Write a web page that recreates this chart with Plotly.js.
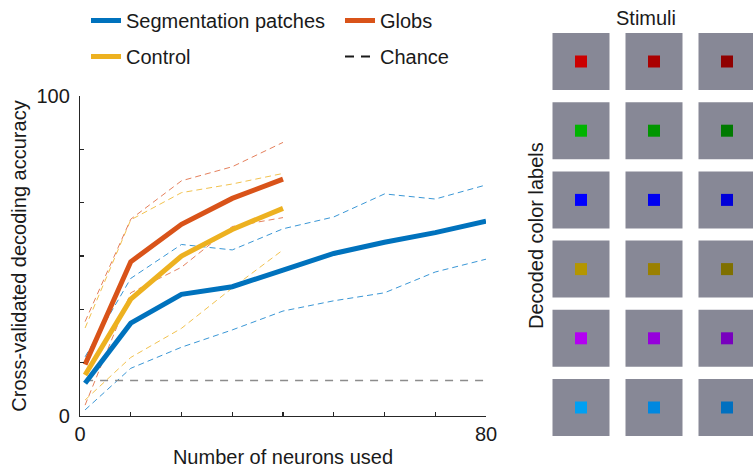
<!DOCTYPE html>
<html>
<head>
<meta charset="utf-8">
<script src="https://cdn.plot.ly/plotly-3.0.1.min.js"></script>
<style>html,body{margin:0;padding:0;background:#fff}#chart{width:753px;height:468px}</style>
</head>
<body>
<div id="chart"></div>
<script>
// ---- Decoding accuracy data ----
var neuronsShort = [1, 10, 20, 30, 40];
var neuronsLong = [1, 10, 20, 30, 40, 50, 60, 70, 80];

var segMean  = [10.2, 29.0, 38.0, 40.4, 45.6, 50.8, 54.3, 57.3, 60.9];
var segUpper = [18.5, 43.0, 53.6, 51.9, 58.5, 62.2, 69.4, 67.8, 72.2];
var segLower = [1.9, 14.9, 21.5, 26.9, 32.8, 36.0, 38.5, 45.0, 49.0];

var globsMean  = [16.1, 48.2, 59.9, 68.0, 74.0];
var globsUpper = [29.5, 61.5, 73.5, 77.9, 85.5];
var globsLower = [3.4, 38.5, 46.5, 59.2, 62.0];

var controlMean  = [12.8, 36.5, 50.0, 58.3, 64.9];
var controlUpper = [27.5, 61.3, 69.8, 72.5, 75.8];
var controlLower = [5.0, 18.3, 27.4, 40.0, 51.9];

var chanceX = [1, 80];
var chanceLevel = [11.1, 11.1];

var xTickVals = [0, 10, 20, 30, 40, 50, 60, 70, 80];
var xTickText = ['0', '', '', '', '', '', '', '', '80'];
var yTickVals = [0, 16.67, 33.33, 50, 66.67, 83.33, 100];
var yTickText = ['0', '', '', '', '', '', '100'];

// ---- Stimuli grid: rows = decoded colour labels, columns = stimulus shades ----
var labelRows = [0, 1, 2, 3, 4, 5];
var shadeCols = [0, 1, 2];
var redShades    = ['#cc0000', '#aa0000', '#900000'];
var greenShades  = ['#00b400', '#009600', '#007a00'];
var blueShades   = ['#0000ff', '#0000f0', '#0000d8'];
var yellowShades = ['#b49600', '#9a8000', '#7f7000'];
var purpleShades = ['#b400f2', '#9600dc', '#7800be'];
var cyanShades   = ['#00a0f2', '#0088e0', '#0070c0'];
var shadeRows = [redShades, greenShades, blueShades, yellowShades, purpleShades, cyanShades];

// ---- colours ----
var C_BLUE = '#0072BD', C_ORANGE = '#D95319', C_YELLOW = '#EDB120';
var C_BLUE_L = '#3a97d6', C_ORANGE_L = '#e5805c', C_YELLOW_L = '#f2c24e';

function dashed(x, y, color) {
  return {x: x, y: y, type: 'scatter', mode: 'lines', showlegend: false, hoverinfo: 'skip',
          line: {color: color, width: 1, dash: '6px,4px'}};
}

var traces = [];
traces.push(dashed(neuronsLong, segUpper, C_BLUE_L));
traces.push(dashed(neuronsLong, segLower, C_BLUE_L));
traces.push(dashed(neuronsShort, controlUpper, C_YELLOW_L));
traces.push(dashed(neuronsShort, controlLower, C_YELLOW_L));
traces.push(dashed(neuronsShort, globsUpper, C_ORANGE_L));
traces.push(dashed(neuronsShort, globsLower, C_ORANGE_L));
traces.push({x: chanceX, y: chanceLevel, type: 'scatter', mode: 'lines', showlegend: false,
             line: {color: '#8c8c8c', width: 1.6, dash: '8px,7px'}});
traces.push({x: neuronsLong, y: segMean, type: 'scatter', mode: 'lines', name: 'Segmentation patches',
             legend: 'legend', legendgroup: 'a', line: {color: C_BLUE, width: 5}});
traces.push({x: neuronsShort, y: controlMean, type: 'scatter', mode: 'lines', name: 'Control',
             legend: 'legend', legendgroup: 'b', line: {color: C_YELLOW, width: 5}});
traces.push({x: neuronsShort, y: globsMean, type: 'scatter', mode: 'lines', name: 'Globs',
             legend: 'legend2', legendgroup: 'c', line: {color: C_ORANGE, width: 5}});
traces.push({x: [null], y: [null], type: 'scatter', mode: 'lines', name: 'Chance',
             legend: 'legend2', legendgroup: 'd', line: {color: '#1a1a1a', width: 2, dash: '9px,7px'}});

// stimuli grid
var cellX = [], cellY = [], dotX = [], dotY = [], dotC = [];
labelRows.forEach(function (r) {
  shadeCols.forEach(function (c) {
    cellX.push(c); cellY.push(r);
    dotX.push(c); dotY.push(r); dotC.push(shadeRows[r][c]);
  });
});
traces.push({x: cellX, y: cellY, xaxis: 'x2', yaxis: 'y2', type: 'scatter', mode: 'markers',
             showlegend: false, cliponaxis: false, hoverinfo: 'skip',
             marker: {symbol: 'square', size: 57, color: '#878896', line: {width: 0}}});
traces.push({x: dotX, y: dotY, xaxis: 'x2', yaxis: 'y2', type: 'scatter', mode: 'markers',
             showlegend: false, cliponaxis: false, hoverinfo: 'skip',
             marker: {symbol: 'square', size: 12, color: dotC, line: {width: 0}}});

var W = 753, H = 468;
var FONT = '"Liberation Sans", Arial, sans-serif';
var legendCommon = {orientation: 'v', xanchor: 'left', yanchor: 'top', bgcolor: 'rgba(0,0,0,0)',
                    font: {family: FONT, size: 20, color: '#1a1a1a'}, tracegroupgap: 7, itemwidth: 30};

var layout = {
  width: W, height: H,
  margin: {l: 0, r: 0, t: 0, b: 0},
  paper_bgcolor: '#fff', plot_bgcolor: 'rgba(0,0,0,0)',
  font: {family: FONT, size: 20, color: '#1a1a1a'},
  showlegend: true,
  legend: Object.assign({x: 86 / W, y: 1 - 1 / H}, legendCommon),
  legend2: Object.assign({x: 340 / W, y: 1 - 1 / H}, legendCommon),
  xaxis: {
    domain: [80 / W, 486 / W], range: [0, 80], autorange: false,
    showgrid: false, zeroline: false, showline: true, linecolor: '#262626', linewidth: 1.2,
    ticks: 'inside', ticklen: 4, tickcolor: '#262626', tickwidth: 1.2,
    tickvals: xTickVals, ticktext: xTickText, tickfont: {size: 20, color: '#1a1a1a'},
    title: {text: 'Number of neurons used', font: {size: 20, color: '#1a1a1a'}, standoff: 8}
  },
  yaxis: {
    domain: [52 / H, 372 / H], range: [0, 100], autorange: false,
    showgrid: false, zeroline: false, showline: true, linecolor: '#262626', linewidth: 1.2,
    ticks: 'inside', ticklen: 4, tickcolor: '#262626', tickwidth: 1.2, ticklabelstandoff: 5,
    tickvals: yTickVals, ticktext: yTickText, tickfont: {size: 20, color: '#1a1a1a'},
    title: {text: 'Cross-validated decoding accuracy', font: {size: 20, color: '#1a1a1a'}, standoff: 4}
  },
  xaxis2: {
    domain: [544.5 / W, 748.9 / W], range: [-0.5, 2.3], autorange: false, anchor: 'y2',
    visible: false
  },
  yaxis2: {
    domain: [(H - 442.1) / H, (H - 26.9) / H], range: [5.5, -0.5], autorange: false, anchor: 'x2',
    visible: false
  },
  annotations: [
    {text: 'Stimuli', xref: 'paper', yref: 'paper', x: 646 / W, y: 1 - 18 / H,
     xanchor: 'center', yanchor: 'middle', showarrow: false, font: {size: 20, color: '#1a1a1a'}},
    {text: 'Decoded color labels', xref: 'paper', yref: 'paper', x: 536 / W, y: 1 - 236 / H,
     xanchor: 'center', yanchor: 'middle', showarrow: false, textangle: -90,
     font: {size: 20, color: '#1a1a1a'}}
  ]
};

Plotly.newPlot('chart', traces, layout, {staticPlot: true, displayModeBar: false});
</script>
</body>
</html>
